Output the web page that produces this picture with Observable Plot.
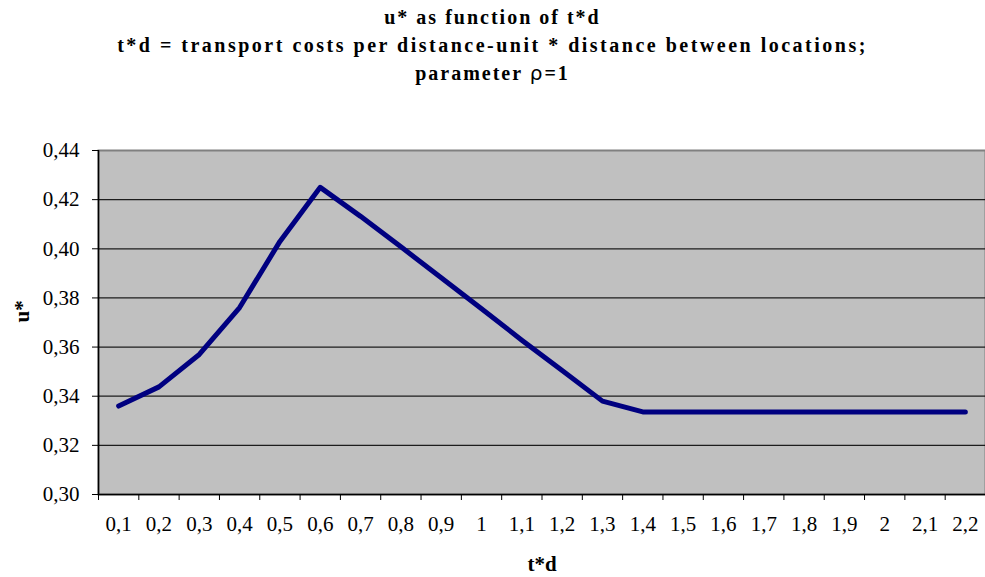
<!DOCTYPE html>
<html>
<head>
<meta charset="utf-8">
<script src="https://cdn.jsdelivr.net/npm/d3@7"></script>
<script src="https://cdn.jsdelivr.net/npm/@observablehq/plot@0.6"></script>
<style>
  html, body { margin: 0; padding: 0; background: #fff; }
  #title { width: 985px; height: 95px; box-sizing: border-box; padding-top: 3px;
    font-family: "Liberation Serif", "Times New Roman", serif; font-weight: bold; font-size: 20px;
    line-height: 28px; text-align: center; color: #000; letter-spacing: 2px; }
  #title .wide { letter-spacing: 2.5px; }
  #chart svg { display: block; }
</style>
</head>
<body>
<div id="title">u* as function of t*d<br><span class="wide">t*d = transport costs per distance-unit * distance between locations;</span><br>parameter <span style="font-family:'DejaVu Sans';font-weight:normal;font-size:20px">ρ</span>=1</div>
<div id="chart"></div>
<script>
// categories (t*d)
const td = [0.1, 0.2, 0.3, 0.4, 0.5, 0.6, 0.7, 0.8, 0.9, 1.0, 1.1,
            1.2, 1.3, 1.4, 1.5, 1.6, 1.7, 1.8, 1.9, 2.0, 2.1, 2.2];
// series values (u*)
const uStar = [0.3360, 0.3438, 0.3570, 0.3761, 0.4030, 0.4250, 0.4132, 0.4008, 0.3882, 0.3756, 0.3628,
               0.3505, 0.3380, 0.3336, 0.3336, 0.3336, 0.3336, 0.3336, 0.3336, 0.3336, 0.3336, 0.3336];
// y tick values
const yTicks = [0.30, 0.32, 0.34, 0.36, 0.38, 0.40, 0.42, 0.44];

const data = td.map((t, i) => ({t, u: uStar[i]}));
const step = td[1] - td[0];
const xDomain = [td[0] - step / 2, td[td.length - 1] + step / 2];
const boundaries = [td[0] - step / 2, ...td.map(t => t + step / 2)];
const comma = s => s.replace(".", ",");
const FONT = "Liberation Serif, Times New Roman, serif";

const chart = Plot.plot({
  width: 985,
  height: 482,
  marginTop: 55,
  marginBottom: 83,
  marginLeft: 98,
  marginRight: 0,
  style: {fontFamily: FONT, fontSize: "21px", background: "#fff", color: "#000"},
  x: {domain: xDomain},
  y: {domain: [0.30, 0.44]},
  marks: [
    Plot.frame({fill: "#c0c0c0", stroke: "#808080", strokeWidth: 2}),
    Plot.ruleY(yTicks.filter(v => v > 0.30 && v < 0.44), {stroke: "#000", strokeWidth: 1.2, strokeOpacity: 0.85}),
    Plot.ruleX([xDomain[0]], {stroke: "#000", strokeWidth: 1.5}),
    Plot.ruleY([0.30], {stroke: "#000", strokeWidth: 1.5}),
    Plot.line(data, {x: "t", y: "u", stroke: "#000080", strokeWidth: 5,
      strokeLinecap: "round", strokeLinejoin: "round"}),
    Plot.axisY({ticks: yTicks, tickFormat: d => comma(d3.format(".2f")(d)),
      tickSize: 6, tickPadding: 13, fontSize: 21, fontFamily: FONT, label: null}),
    Plot.axisX({ticks: boundaries, tickFormat: () => "", tickSize: 6, label: null}),
    Plot.axisX({ticks: td, tickFormat: d => comma(String(d)), tickSize: 0, tickPadding: 22,
      fontSize: 21, fontFamily: FONT, label: null}),
    Plot.text(["u*"], {frameAnchor: "left", dx: -76, rotate: -90, fontWeight: "bold", fontSize: 21, fontFamily: FONT}),
    Plot.text(["t*d"], {frameAnchor: "bottom", dy: 76, fontWeight: "bold", fontSize: 21, fontFamily: FONT})
  ]
});
document.getElementById("chart").appendChild(chart);
</script>
</body>
</html>
